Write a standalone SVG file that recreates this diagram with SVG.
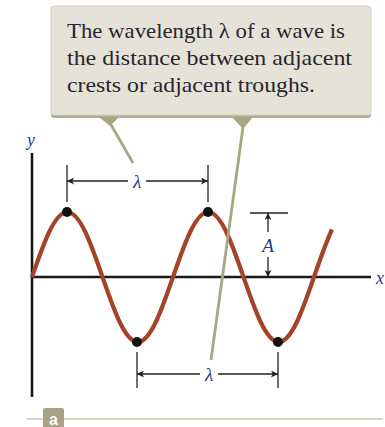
<svg xmlns="http://www.w3.org/2000/svg" width="385" height="427" viewBox="0 0 385 427">
<style>
.txt{font-family:"Liberation Serif","Times New Roman",serif;font-size:21px;fill:#2a2530}
.lbl{font-family:"Liberation Serif","Times New Roman",serif;font-style:italic;fill:#1d3f8a}
.dim{stroke:#222;stroke-width:1.3;fill:none}
.ptr{stroke:#a8a684;stroke-width:2.8;fill:none}
</style>
<defs>
<marker id="ah" viewBox="0 0 10 10" refX="10" refY="5" markerWidth="10" markerHeight="7" markerUnits="userSpaceOnUse" orient="auto-start-reverse">
<path d="M0,0 L10,5 L0,10 L2.5,5 Z" fill="#222"/>
</marker>
</defs>
<rect width="385" height="427" fill="#fff"/>
<g id="axes">
<line x1="32" y1="153" x2="32" y2="397" stroke="#1a1a1a" stroke-width="2.6"/>
<line x1="31" y1="277" x2="371" y2="277" stroke="#1a1a1a" stroke-width="2.6"/>
<text class="lbl" x="27" y="146" font-size="18">y</text>
<text class="lbl" x="376" y="284" font-size="18">x</text>
</g>
<g id="wave">
<path d="M32,277 C43.49,243.7 54.54,212 67.25,212 C79.96,212 91.01,243.7 102.5,277 C113.99,310.3 125.04,342 137.75,342 C150.46,342 161.51,310.3 173,277 C184.49,243.7 195.54,212 208.25,212 C220.96,212 232.01,243.7 243.5,277 C254.99,310.3 266.04,342 278.75,342 C291.46,342 302.51,310.3 314,277 C320,259.6 326,242.4 332,229.5" fill="none" stroke="#a5432a" stroke-width="4.2"/>
<circle cx="67" cy="212" r="5" fill="#111"/>
<circle cx="208" cy="212" r="5" fill="#111"/>
<circle cx="137" cy="342" r="5" fill="#111"/>
<circle cx="278" cy="342" r="5" fill="#111"/>
</g>
<g id="connectors">
<path class="ptr" d="M110,123 L133,163"/>
<path class="ptr" d="M243,127 L211,360"/>
</g>
<g id="callout">
<rect x="51" y="7" width="320" height="111" rx="3" fill="#b3b095"/>
<rect x="51" y="6" width="320" height="109" rx="3" fill="#e5e3d8" stroke="#d2d0c2" stroke-width="1"/>
<path d="M99,117 L119,117 L110,126 Z" fill="#a8a684"/>
<path d="M232,117 L253,117 L243,129 Z" fill="#a8a684"/>
<text class="txt" x="67" y="38" textLength="278" lengthAdjust="spacingAndGlyphs">The wavelength λ of a wave is</text>
<text class="txt" x="67" y="65" textLength="285" lengthAdjust="spacingAndGlyphs">the distance between adjacent</text>
<text class="txt" x="67" y="92" textLength="248" lengthAdjust="spacingAndGlyphs">crests or adjacent troughs.</text>
</g>
<g id="lambda-top">
<line class="dim" x1="67" y1="165" x2="67" y2="202"/>
<line class="dim" x1="208" y1="165" x2="208" y2="202"/>
<line class="dim" x1="128" y1="181" x2="67" y2="181" marker-end="url(#ah)"/>
<line class="dim" x1="146" y1="181" x2="208" y2="181" marker-end="url(#ah)"/>
<text class="lbl" x="137" y="188" font-size="19" text-anchor="middle">λ</text>
</g>
<g id="lambda-bottom">
<line class="dim" x1="137" y1="352" x2="137" y2="388"/>
<line class="dim" x1="278" y1="352" x2="278" y2="388"/>
<line class="dim" x1="200" y1="374" x2="137" y2="374" marker-end="url(#ah)"/>
<line class="dim" x1="218" y1="374" x2="278" y2="374" marker-end="url(#ah)"/>
<text class="lbl" x="209" y="381" font-size="19" text-anchor="middle">λ</text>
</g>
<g id="amplitude">
<line class="dim" x1="250" y1="213" x2="288" y2="213"/>
<line class="dim" x1="268" y1="232" x2="268" y2="213" marker-end="url(#ah)"/>
<line class="dim" x1="268" y1="257" x2="268" y2="277" marker-end="url(#ah)"/>
<text class="lbl" x="268" y="252" font-size="19" text-anchor="middle">A</text>
</g>
<g id="panel-label">
<line x1="26" y1="419" x2="383" y2="419" stroke="#d8d6c4" stroke-width="2"/>
<rect x="43" y="408" width="21" height="22" rx="2" fill="#a6a386"/>
<text x="53.5" y="425" font-family="Liberation Sans, Arial, sans-serif" font-size="16" font-weight="bold" fill="#fff" text-anchor="middle">a</text>
</g>
</svg>
